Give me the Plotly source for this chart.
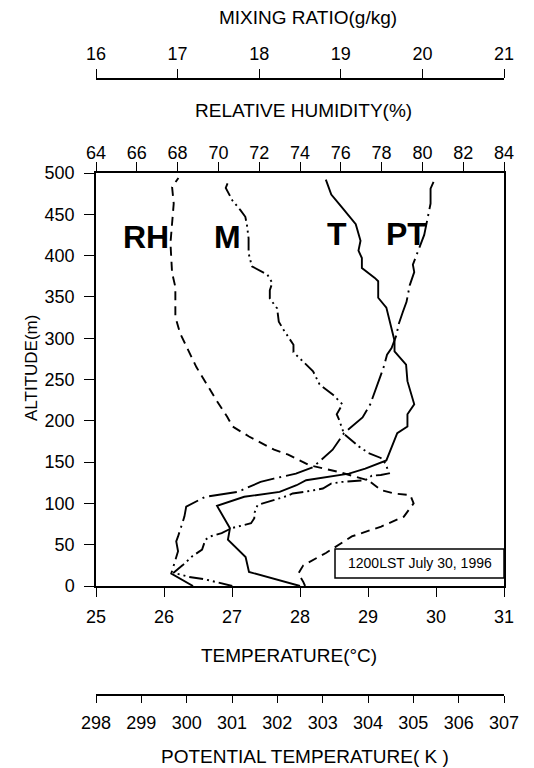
import plotly.graph_objects as go

# ---------------- data ----------------
# Relative humidity (%) vs altitude (m)
alt_rh = [0, 5, 15, 25, 40, 60, 72, 84, 100, 110, 112, 116, 128, 138, 146, 159, 165,
          181, 193, 205, 225, 233, 265, 306, 326, 362, 379, 415, 463, 483, 494]
rh = [74.25, 74.16, 73.92, 74.16, 75.27, 76.54, 77.98, 79.09, 79.57, 79.41, 78.62, 77.98,
      77.34, 75.91, 74.48, 73.42, 72.73, 71.5, 70.7, 70.43, 69.9, 69.71, 68.92, 68.12,
      67.89, 67.89, 67.73, 67.65, 67.81, 67.73, 68.04]

# Mixing ratio (g/kg) vs altitude (m)
alt_mr = [0, 8, 11, 16, 25, 36, 44, 56, 60, 64, 70, 76, 82, 88, 98, 104, 109, 112, 114,
          118, 124, 126, 128, 133.6, 134.4, 136.4, 148, 155, 161, 169, 184, 201, 208, 220,
          232, 244, 260, 283, 292, 310, 320, 336, 348, 358, 367, 377, 387, 403, 421, 437,
          447, 455, 467, 482, 492]
mr = [17.67, 17.34, 17.14, 16.95, 17.06, 17.18, 17.30, 17.34, 17.40, 17.54, 17.66, 17.90,
      17.94, 17.94, 17.98, 18.18, 18.34, 18.41, 18.56, 18.78, 18.88, 19.02, 19.30, 19.38,
      19.49, 19.59, 19.55, 19.49, 19.34, 19.22, 19.04, 18.98, 18.95, 19.02, 18.90, 18.74,
      18.66, 18.42, 18.42, 18.30, 18.24, 18.22, 18.13, 18.13, 18.16, 18.10, 17.91, 17.87,
      17.87, 17.85, 17.83, 17.77, 17.67, 17.59, 17.63]

# Temperature (deg C) vs altitude (m)
alt_t = [0, 17, 35, 56, 70, 97, 108, 114, 122, 128, 136, 142, 152, 185, 193, 208, 220,
         248, 268, 284, 297, 321, 337, 349, 369, 373, 385, 397, 406, 418, 438, 458, 474, 492]
temp = [28.0, 27.25, 27.2, 26.94, 26.97, 26.78, 27.18, 27.7, 27.95, 28.09, 28.72, 28.96,
        29.27, 29.43, 29.58, 29.58, 29.68, 29.58, 29.56, 29.39, 29.39, 29.32, 29.27, 29.15,
        29.15, 29.10, 28.91, 28.91, 28.86, 28.89, 28.82, 28.62, 28.46, 28.38]

# Potential temperature (K) vs altitude (m)
alt_pt = [0, 15, 42, 54, 60, 84, 96, 102, 108, 114, 126, 130, 136, 144, 165, 185, 204,
          220, 248, 264, 280, 288, 304, 316, 332, 344, 364, 380, 389, 399, 411, 425, 463,
          481, 495]
pt = [300.14, 299.66, 299.81, 299.77, 299.81, 299.95, 299.99, 300.19, 300.41, 301.13,
      301.63, 301.92, 302.41, 302.79, 303.22, 303.47, 303.88, 304.05, 304.23, 304.34,
      304.42, 304.52, 304.63, 304.67, 304.77, 304.85, 304.92, 305.02, 304.99, 305.06,
      305.13, 305.24, 305.38, 305.38, 305.49]

alt_ticks = list(range(0, 501, 50))
t_ticks = [25, 26, 27, 28, 29, 30, 31]
rh_ticks = list(range(64, 85, 2))
mr_ticks = [16, 17, 18, 19, 20, 21]
pt_ticks = list(range(298, 308))

# ---------------- figure ----------------
FONT = "Liberation Sans, Arial, sans-serif"
BLACK = "black"
LW = 1.9

fig = go.Figure()
fig.add_trace(go.Scatter(x=rh, y=alt_rh, xaxis="x2", yaxis="y", mode="lines",
                         line=dict(color=BLACK, width=LW, dash="9px,6px"),
                         name="RH", showlegend=False))
fig.add_trace(go.Scatter(x=mr, y=alt_mr, xaxis="x3", yaxis="y", mode="lines",
                         line=dict(color=BLACK, width=LW, dash="14px,4px,2px,4px,2px,4px"),
                         name="M", showlegend=False))
fig.add_trace(go.Scatter(x=temp, y=alt_t, xaxis="x", yaxis="y", mode="lines",
                         line=dict(color=BLACK, width=LW),
                         name="T", showlegend=False))
fig.add_trace(go.Scatter(x=pt, y=alt_pt, xaxis="x4", yaxis="y", mode="lines",
                         line=dict(color=BLACK, width=LW, dash="28px,5px,2px,5px"),
                         name="PT", showlegend=False))

tickfont = dict(family=FONT, size=18, color=BLACK)
common = dict(showgrid=False, zeroline=False, showline=True, linecolor=BLACK,
              linewidth=1.5, ticks="outside", tickcolor=BLACK, tickwidth=1.2,
              tickfont=tickfont)

YD0, YD1 = 0.17695, 0.8474

fig.update_layout(
    width=534, height=768, autosize=False,
    margin=dict(l=96, r=30, t=79, b=73),
    paper_bgcolor="white", plot_bgcolor="white",
    xaxis=dict(range=[25, 31], tickvals=t_ticks, anchor="y", side="bottom",
               domain=[0, 1], ticklen=9, ticklabelstandoff=5, **common),
    xaxis2=dict(range=[64, 84], tickvals=rh_ticks, overlaying="x", anchor="y",
                side="top", ticklen=9, ticklabelstandoff=-4, **common),
    xaxis3=dict(range=[16, 21], tickvals=mr_ticks, overlaying="x", anchor="free",
                position=1, side="top", ticklen=9, ticklabelstandoff=2, **common),
    xaxis4=dict(range=[298, 307], tickvals=pt_ticks, overlaying="x", anchor="free",
                position=0, side="bottom", ticklen=7, ticklabelstandoff=5, **common),
    yaxis=dict(range=[0, 500], tickvals=alt_ticks, domain=[YD0, YD1], mirror=True,
               ticklen=10, ticklabelstandoff=6, **common),
)

def paper_y(py):
    return 1 - (py - 79) / 616

titles = [
    ("MIXING RATIO(g/kg)", 0.52, paper_y(17)),
    ("RELATIVE HUMIDITY(%)", 0.508, paper_y(110)),
    ("TEMPERATURE(°C)", 0.473, paper_y(655)),
    ("POTENTIAL TEMPERATURE( K )", 0.512, paper_y(756)),
]
for txt, xp, yp in titles:
    fig.add_annotation(text=txt, xref="paper", yref="paper", x=xp, y=yp,
                       xanchor="center", yanchor="middle", showarrow=False,
                       font=dict(family=FONT, size=19, color=BLACK))

fig.add_annotation(text="ALTITUDE(m)", xref="paper", yref="paper",
                   x=(32 - 96) / 408, y=paper_y(368), textangle=-90,
                   xanchor="center", yanchor="middle", showarrow=False,
                   font=dict(family=FONT, size=17, color=BLACK))

# curve labels
for txt, xd, yd in [("RH", 0.1225, 0.8458), ("M", 0.3235, 0.8458),
                    ("T", 0.590, 0.8523), ("PT", 0.760, 0.8523)]:
    fig.add_annotation(text="<b>%s</b>" % txt, xref="x domain", yref="y domain",
                       x=xd, y=yd, xanchor="center", yanchor="middle",
                       showarrow=False,
                       font=dict(family=FONT, size=32, color=BLACK))

# date box
fig.add_shape(type="rect", xref="x domain", yref="y domain",
              x0=0.5858, x1=1.0, y0=0.0194, y1=0.0896,
              line=dict(color=BLACK, width=1.5), fillcolor="white", layer="above")
fig.add_annotation(text="1200LST July 30, 1996", xref="x domain", yref="y domain",
                   x=0.7929, y=0.0557, xanchor="center", yanchor="middle",
                   showarrow=False, font=dict(family=FONT, size=14, color=BLACK))

fig.write_html("out.html",
               config={"displayModeBar": False},
               post_script="document.body.style.margin='0';"
                           "document.body.style.overflow='hidden';")
